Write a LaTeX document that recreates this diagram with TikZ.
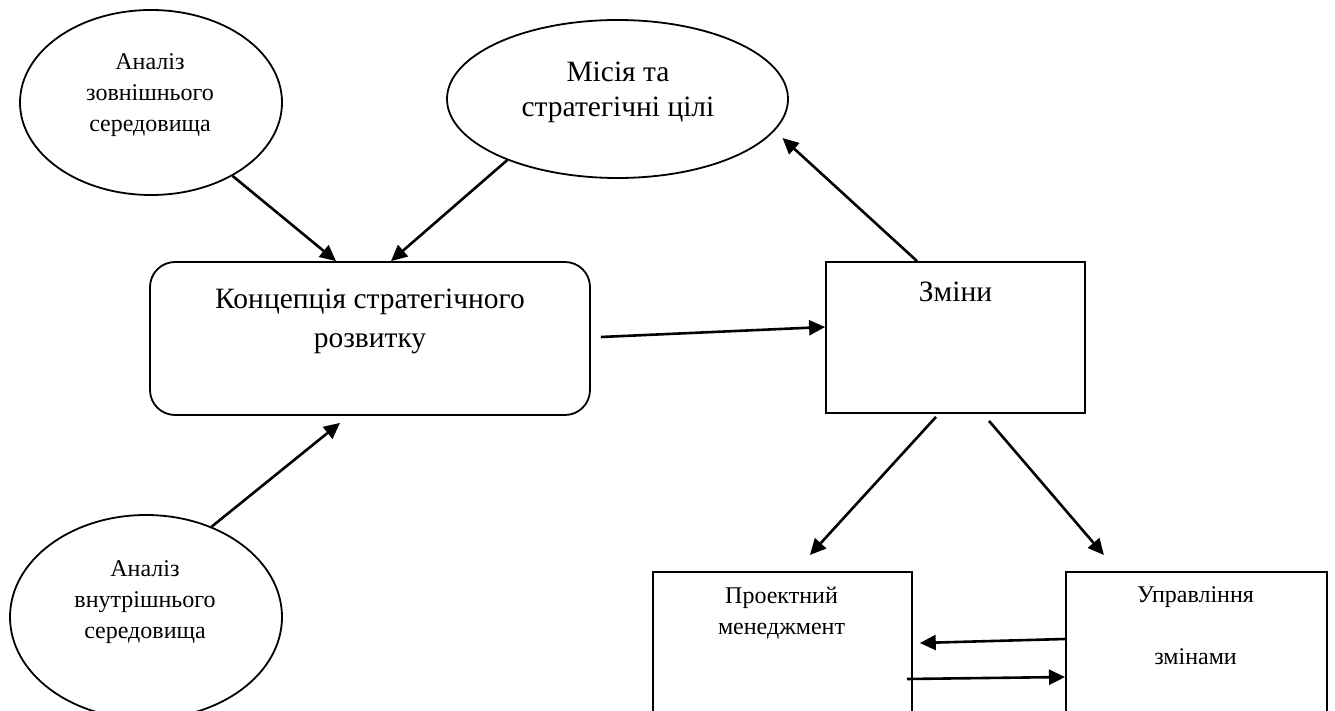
\documentclass[tikz,border=0pt]{standalone}
\usepackage{fontspec}
\setmainfont{Liberation Serif}
\usetikzlibrary{arrows.meta,shapes.geometric,calc}
\begin{document}
\begin{tikzpicture}[x=1pt,y=-1pt,
  ell/.style={draw,ellipse,line width=1.8pt,inner sep=0pt},
  box/.style={draw,rectangle,line width=1.8pt,inner sep=0pt},
  rbox/.style={box,rounded corners=25pt},
  arr/.style={line width=2.6pt,-{Triangle[length=16pt,width=15pt]}},
  tsmall/.style={inner sep=0pt,align=center,font=\fontsize{24}{31}\selectfont},
  tmid/.style={inner sep=0pt,align=center,font=\fontsize{29.5}{35}\selectfont},
  tbig/.style={inner sep=0pt,align=center,font=\fontsize{29.5}{39}\selectfont}]
\fill[white] (0,0) rectangle (1335,711);
\useasboundingbox (0,0) rectangle (1335,711);
\clip (0,0) rectangle (1335,711);
% shapes
\node[ell,minimum width=262pt,minimum height=185pt] (e1) at (151,102.5) {};
\node[ell,minimum width=341pt,minimum height=158pt] (e2) at (617.5,99) {};
\node[ell,minimum width=272pt,minimum height=204pt] (e3) at (146,617) {};
\node[rbox,minimum width=440pt,minimum height=153pt] (rect) at (370,338.5) {};
\node[box,minimum width=259pt,minimum height=151pt] (zm) at (955.5,337.5) {};
\node[box,anchor=north west,minimum width=259pt,minimum height=250pt] (pm) at (652,571) {};
\node[box,anchor=north west,minimum width=261pt,minimum height=250pt] (uz) at (1065,571) {};
% texts
\node[tsmall] (t1) at (150,94.5) {\strut Аналіз\\\strut зовнішнього\\\strut середовища};
\node[tmid] (t2) at (618,92.5) {\strut Місія та\\\strut стратегічні цілі};
\node[tbig] (t3) at (370,320.5) {\strut Концепція стратегічного\\\strut розвитку};
\node[tbig] (t4) at (955.5,293.2) {\strut Зміни};
\node[tsmall] (t5) at (781.5,612.3) {\strut Проектний\\\strut менеджмент};
\node[tsmall] (t6) at (1195.5,627.3) {\strut Управління\\\strut\\\strut змінами};
\node[tsmall] (t7) at (145,601) {\strut Аналіз\\\strut внутрішнього\\\strut середовища};
% connectors
\draw[arr] (e1.-42) -- ([xshift=-34pt]rect.north);
\draw[arr] (e2.-151) -- ([xshift=21pt]rect.north);
\draw[arr] (e3.54) -- ([shift={(-30,7)}]rect.south);
\draw[arr] ([shift={(10,-1.5)}]rect.east) -- ([shift={(0,-10.5)}]zm.west);
\draw[arr] ([xshift=-38.5pt]zm.north) -- ([shift={(165,39)}]e2.center);
\draw[arr] ([shift={(-19.5,3)}]zm.south) -- ([shift={(27.5,-16)}]pm.north);
\draw[arr] ([shift={(33.5,7)}]zm.south) -- ([shift={(-92.5,-16)}]uz.north);
\draw[arr] ([shift={(0,68)}]uz.north west) -- ([shift={(7,72)}]pm.north east);
\draw[arr] ([shift={(-6,108)}]pm.north east) -- ([shift={(0,106)}]uz.north west);
\end{tikzpicture}
\end{document}
